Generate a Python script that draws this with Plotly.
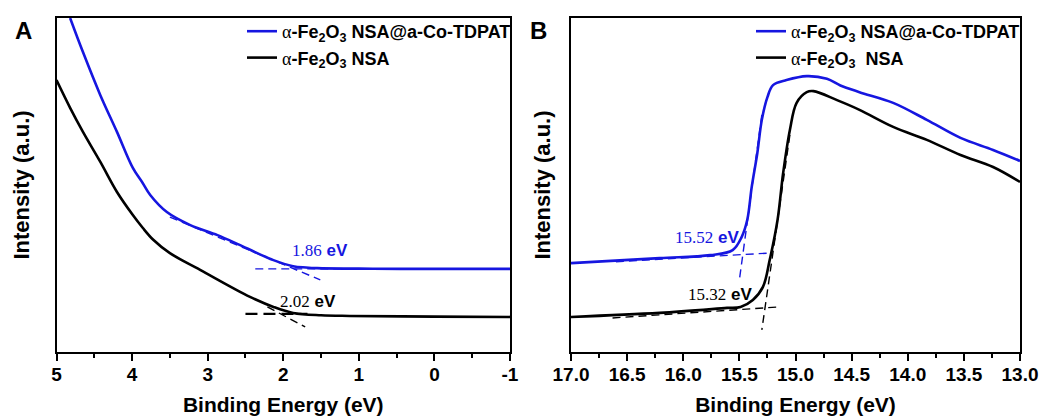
import plotly.graph_objects as go

# ---------------- data ----------------
# Panel A (valence band region)
a_blue_x = [4.82, 4.65, 4.42, 4.20, 3.99, 3.86, 3.76, 3.54, 3.23, 2.87, 2.57, 2.13, 1.87, 1.70, 1.55, 1.00, 0.45, -0.20, -1.00]
a_blue_y = [100.0, 89.8, 76.9, 65.9, 55.1, 50.6, 47.0, 41.9, 38.0, 35.0, 32.0, 27.5, 25.7, 25.3, 25.1, 24.95, 24.9, 24.9, 24.9]
a_black_x = [5.00, 4.82, 4.65, 4.42, 4.20, 3.99, 3.86, 3.72, 3.50, 3.10, 2.44, 2.13, 1.87, 1.50, 1.12, 0.00, -1.00]
a_black_y = [81.4, 73.1, 65.9, 56.9, 47.9, 41.0, 37.2, 33.6, 29.6, 24.6, 16.5, 13.5, 11.7, 11.0, 10.8, 10.6, 10.5]

# Panel B (secondary electron cutoff)
b_blue_x = [17.00, 16.21, 15.76, 15.56, 15.48, 15.43, 15.39, 15.34, 15.30, 15.25, 15.20, 15.08, 14.90, 14.72, 14.60, 14.43, 14.13, 13.83, 13.53, 13.24, 13.00]
b_blue_y = [26.6, 28.1, 29.0, 30.5, 34.4, 39.5, 49.4, 59.6, 69.5, 76.3, 79.9, 81.4, 82.6, 81.8, 79.8, 77.8, 74.6, 69.5, 64.1, 60.5, 57.2]
b_black_x = [17.00, 16.21, 15.61, 15.49, 15.38, 15.29, 15.23, 15.16, 15.11, 15.05, 14.99, 14.90, 14.84, 14.63, 14.43, 14.13, 13.83, 13.53, 13.24, 13.00]
b_black_y = [10.5, 11.7, 13.2, 13.5, 15.6, 19.5, 27.5, 39.5, 53.6, 66.5, 74.6, 77.8, 78.1, 75.4, 72.5, 67.4, 63.5, 59.0, 55.4, 50.9]

# Tangent (extrapolation) lines
a_blue_tan_x, a_blue_tan_y = [3.50, 1.51], [40.4, 21.6]
a_blue_base_x, a_blue_base_y = [2.37, 1.20], [24.9, 24.9]
a_black_tan_x, a_black_tan_y = [2.21, 1.71], [13.5, 7.5]
a_black_base_x, a_black_base_y = [2.50, 1.68], [11.4, 11.4]
b_blue_tan_x, b_blue_tan_y = [15.30, 15.50], [71.0, 21.6]
b_blue_base_x, b_blue_base_y = [16.60, 15.25], [27.0, 29.6]
b_black_tan_x, b_black_tan_y = [15.05, 15.30], [65.0, 6.6]
b_black_base_x, b_black_base_y = [16.63, 15.14], [10.2, 13.5]

# Value labels: (x, y, number)
a_labels = [(1.51, 30.5, "1.86", "blue"), (1.67, 15.0, "2.02", "black")]
b_labels = [(15.79, 34.4, "15.52", "blue"), (15.67, 17.1, "15.32", "black")]

a_ticks = [5, 4, 3, 2, 1, 0, -1]
b_ticks = [17.0, 16.5, 16.0, 15.5, 15.0, 14.5, 14.0, 13.5, 13.0]

# ---------------- style ----------------
BLUE = "#1616e0"
BLACK = "#000000"
SANS = "Arial, Liberation Sans, sans-serif"
ALPHA = '<span style="font-family:Liberation Serif;font-weight:normal">α</span>'
name_blue = ALPHA + "-Fe<sub>2</sub>O<sub>3</sub> NSA@a-Co-TDPAT"
name_black_a = ALPHA + "-Fe<sub>2</sub>O<sub>3</sub> NSA"
name_black_b = ALPHA + "-Fe<sub>2</sub>O<sub>3</sub>\u00a0 NSA"
colors = {"blue": BLUE, "black": BLACK}

fig = go.Figure()

def curve(x, y, color, name, legend, xa, ya, show=True):
    fig.add_trace(go.Scatter(
        x=x, y=y, mode="lines", name=name, legend=legend, showlegend=show,
        line=dict(color=color, width=2.6, shape="spline", smoothing=1.0),
        xaxis=xa, yaxis=ya, hoverinfo="skip"))

def dashed(x, y, color, xa, ya, width=1.4, dash="8px,5px"):
    fig.add_trace(go.Scatter(
        x=x, y=y, mode="lines", showlegend=False,
        line=dict(color=color, width=width, dash=dash),
        xaxis=xa, yaxis=ya, hoverinfo="skip"))

# Panel A
dashed(a_blue_tan_x, a_blue_tan_y, BLUE, "x", "y")
dashed(a_blue_base_x, a_blue_base_y, BLUE, "x", "y")
dashed(a_black_tan_x, a_black_tan_y, BLACK, "x", "y")
dashed(a_black_base_x, a_black_base_y, BLACK, "x", "y", width=2.4, dash="12px,6px")
curve(a_blue_x, a_blue_y, BLUE, name_blue, "legend", "x", "y")
curve(a_black_x, a_black_y, BLACK, name_black_a, "legend", "x", "y")

# Panel B
dashed(b_blue_tan_x, b_blue_tan_y, BLUE, "x2", "y2")
dashed(b_blue_base_x, b_blue_base_y, BLUE, "x2", "y2")
dashed(b_black_tan_x, b_black_tan_y, BLACK, "x2", "y2")
dashed(b_black_base_x, b_black_base_y, BLACK, "x2", "y2")
curve(b_blue_x, b_blue_y, BLUE, name_blue, "legend2", "x2", "y2")
curve(b_black_x, b_black_y, BLACK, name_black_b, "legend2", "x2", "y2")

annotations = []
for (x, y, num, c) in a_labels:
    annotations.append(dict(
        x=x, y=y, xref="x", yref="y", showarrow=False,
        text=f'<span style="font-family:Liberation Serif">{num}</span> <b>eV</b>',
        font=dict(family=SANS, size=17, color=colors[c])))
for (x, y, num, c) in b_labels:
    annotations.append(dict(
        x=x, y=y, xref="x2", yref="y2", showarrow=False,
        text=f'<span style="font-family:Liberation Serif">{num}</span> <b>eV</b>',
        font=dict(family=SANS, size=17, color=colors[c])))
for letter, px, py in (("A", 23, 31), ("B", 538, 30)):
    annotations.append(dict(
        x=px / 1047, y=1 - py / 419, xref="paper", yref="paper", showarrow=False,
        xanchor="center", yanchor="middle",
        text=f"<b>{letter}</b>", font=dict(family=SANS, size=24, color=BLACK)))

tickfont = dict(family=SANS, size=19, color=BLACK, weight="bold")
titlefont = dict(family=SANS, size=21, color=BLACK, weight="bold")
legfont = dict(family=SANS, size=18, color=BLACK, weight="bold")

def xaxis(domain, rng, ticks, fmt, minor_dtick, anchor):
    return dict(
        domain=domain, range=rng, anchor=anchor, automargin=False,
        tickmode="array", tickvals=ticks, ticktext=[fmt.format(t) for t in ticks],
        ticks="outside", ticklen=7, tickwidth=2, tickcolor=BLACK,
        minor=dict(ticks="outside", ticklen=4, tickwidth=2, tickcolor=BLACK, dtick=minor_dtick, tick0=0),
        showline=True, mirror=True, linewidth=2, linecolor=BLACK,
        showgrid=False, zeroline=False, tickfont=tickfont, ticklabelstandoff=-3,
        title=dict(text="Binding Energy (eV)", font=titlefont, standoff=14))

def yaxis(domain, anchor, standoff):
    return dict(
        domain=domain, range=[0, 100], anchor=anchor, automargin=False,
        showticklabels=False, ticks="", showline=True, mirror=True,
        linewidth=2, linecolor=BLACK, showgrid=False, zeroline=False,
        title=dict(text="Intensity (a.u.)", font=dict(family=SANS, size=22, color=BLACK, weight="bold"), standoff=standoff))

ydom = [1 - 352 / 419, 1 - 18 / 419]
fig.update_layout(
    width=1047, height=419, autosize=False,
    margin=dict(l=0, r=0, t=0, b=0),
    paper_bgcolor="white", plot_bgcolor="white",
    xaxis=xaxis([56.5 / 1047, 510 / 1047], [5, -1], a_ticks, "{:d}", 0.5, "y"),
    yaxis=yaxis(ydom, "x", 19),
    xaxis2=xaxis([571 / 1047, 1020 / 1047], [17, 13], b_ticks, "{:.1f}", 0.25, "y2"),
    yaxis2=yaxis(ydom, "x2", 12),
    legend=dict(x=516 / 1047, xanchor="right", y=1 - 13 / 419, yanchor="top",
                bgcolor="rgba(0,0,0,0)", borderwidth=0, font=legfont, itemwidth=30,
                traceorder="normal"),
    legend2=dict(x=1025 / 1047, xanchor="right", y=1 - 13 / 419, yanchor="top",
                 bgcolor="rgba(0,0,0,0)", borderwidth=0, font=legfont, itemwidth=30,
                 traceorder="normal"),
    annotations=annotations,
    showlegend=True,
)

fig.write_html("out.html")
